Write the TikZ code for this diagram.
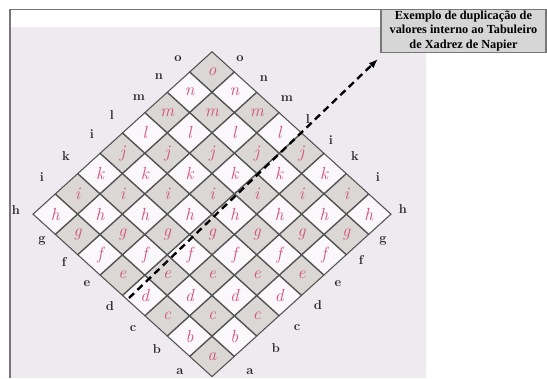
\documentclass[tikz,border=0pt]{standalone}
\usepackage{fontspec}
\usepackage{tikz}
\usetikzlibrary{arrows.meta,shapes.geometric}
\newfontfamily\notefont{Liberation Serif}
\definecolor{photobg}{HTML}{EFEAEF}
\definecolor{cellgray}{HTML}{DAD7D5}
\definecolor{cellwhite}{HTML}{FAF8FA}
\definecolor{inkpink}{HTML}{D4507E}
\definecolor{notegray}{HTML}{D6D6D6}
\definecolor{framegray}{HTML}{777777}

\begin{document}
\begin{tikzpicture}[x=0.03cm,y=-0.03cm,
  cell/.style={diamond,draw=black!68,line width=0.9pt,minimum width=1.344cm,minimum height=1.22cm,
    inner sep=0pt,font=\fontsize{15}{15}\selectfont\itshape,text=inkpink},
  rowlbl/.style={font=\bfseries\fontsize{11}{11}\selectfont,text=black!85,inner sep=0pt},
  note/.style={rectangle,draw=framegray,line width=1pt,fill=notegray,align=center,
    minimum width=4.95cm,minimum height=1.26cm,inner sep=1pt,
    font=\notefont\bfseries\fontsize{10.5}{12.5}\selectfont},
  pointer/.style={-{Latex[length=8pt,width=6pt]},line width=2pt,dash pattern=on 6pt off 4pt}]
\useasboundingbox (0,0) rectangle (547,378);

% photo and frame
\fill[white] (0,0) rectangle (547,378);
\fill[photobg] (11,27) rectangle (426,378);
\draw[framegray,line width=1.5pt] (10,378) -- (10,9.5) -- (381,9.5);

% board cells
\foreach \i in {0,...,7} {
  \foreach \j in {0,...,7} {
    \pgfmathtruncatemacro\r{\i+\j}
    \pgfmathparse{{"a","b","c","d","e","f","g","h","i","k","j","l","m","n","o"}[\r]}
    \let\lt\pgfmathresult
    \ifodd\r \def\shade{cellwhite}\else \def\shade{cellgray}\fi
    \node[cell,fill=\shade] (c-\i-\j) at ({212+(\i-\j)*22.4},{376.8-20.33*(\r+1)}) {\lt};
  }
}

% row labels
\foreach \t/\x/\y [count=\n] in {o/178/59, n/159/77, m/139/98, l/112/115, i/92/134, k/66/156,
    i/42/177, h/16/210, g/42/241, f/64/262, e/87/284, d/110/306, c/133/329, b/157/349, a/180/372} {
  \node[rowlbl] (lblL-\n) at (\x,\y) {\t};
}
\foreach \t/\x/\y [count=\n] in {o/240/59, n/264/79, m/287/99, l/308/119, i/331/140, k/355/156,
    i/378/177, h/403/209, g/383/241, f/361/260, e/338/284, d/318/305, c/297/328, b/276/348, a/250/372} {
  \node[rowlbl] (lblR-\n) at (\x,\y) {\t};
}

% note and pointer
\node[note] (note) at (463.5,31) {Exemplo de duplicação de\\valores interno ao Tabuleiro\\de Xadrez de Napier};
\coordinate (dstart) at (129,298);
\coordinate (dtip) at (378,59);
\draw[pointer] (dstart) -- (dtip);
\end{tikzpicture}
\end{document}
